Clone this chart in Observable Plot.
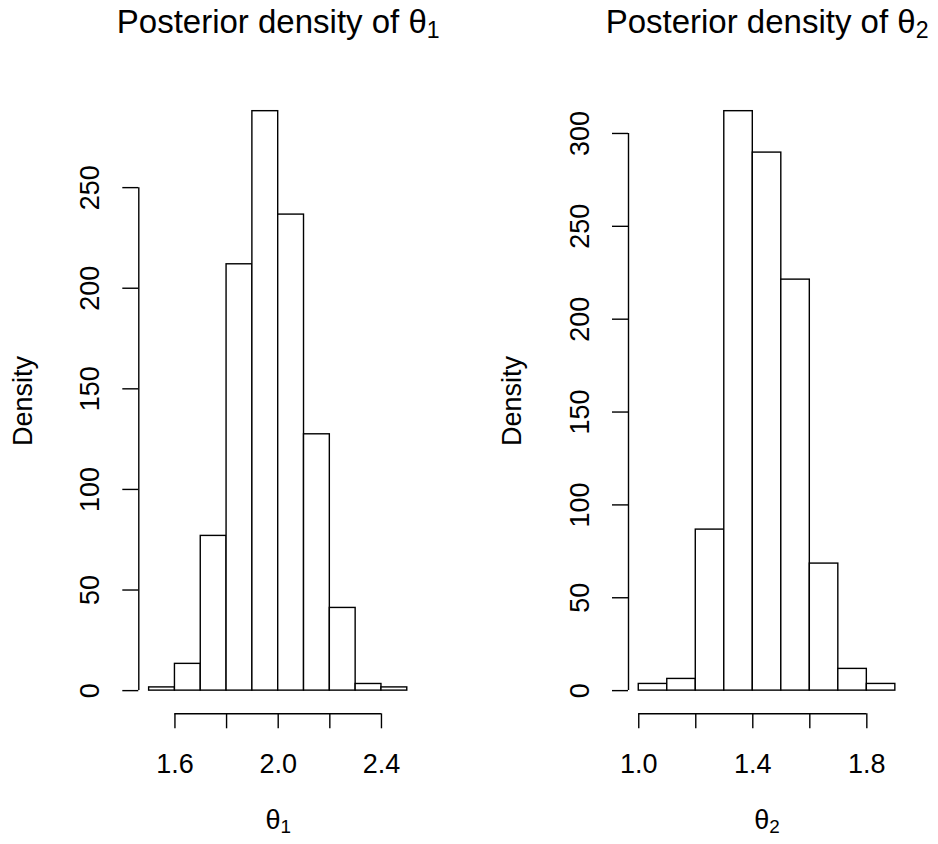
<!DOCTYPE html>
<html><head><meta charset="utf-8">
<script src="https://cdn.jsdelivr.net/npm/d3@7"></script>
<script src="https://cdn.jsdelivr.net/npm/@observablehq/plot@0.6"></script>
<style>
html,body{margin:0;padding:0;background:#fff;}
#wrap{display:flex;width:938px;height:844px;}
#wrap svg{display:block;}
</style></head><body><div id="wrap"></div>
<script>
// ---- data ----
const theta1Breaks = [1.5, 1.6, 1.7, 1.8, 1.9, 2.0, 2.1, 2.2, 2.3, 2.4, 2.5];
const theta1Density = [1.6, 13.3, 76.9, 211.9, 288, 236.6, 127.4, 41.1, 3.3, 1.6];
const theta1Ticks = [1.6, 1.8, 2.0, 2.2, 2.4];
const theta1TickLabels = ["1.6", "", "2.0", "", "2.4"];
const theta1YTicks = [0, 50, 100, 150, 200, 250];

const theta2Breaks = [1.0, 1.1, 1.2, 1.3, 1.4, 1.5, 1.6, 1.7, 1.8, 1.9];
const theta2Density = [3.6, 6.3, 86.7, 312, 289.7, 221.3, 68.4, 11.7, 3.6];
const theta2Ticks = [1.0, 1.2, 1.4, 1.6, 1.8];
const theta2TickLabels = ["1.0", "", "1.4", "", "1.8"];
const theta2YTicks = [0, 50, 100, 150, 200, 250, 300];

const titles = ["Posterior density of θ_1", "Posterior density of θ_2"];
const xLabels = ["θ_1", "θ_2"];
const yLabel = "Density";

const FONT = "'Liberation Sans', Arial, Helvetica, sans-serif";
const LW = 1.4;

function panel({breaks, density, ticks, tickLabels, yTicks, title, xLabel, marginLeft, marginRight}) {
  const bins = density.map((d, i) => ({x1: breaks[i], x2: breaks[i + 1], y1: 0, y2: d}));
  const lo = breaks[0], hi = breaks[breaks.length - 1], ext = 0.04 * (hi - lo);
  const ymax = d3.max(density);
  const fmt = new Map(ticks.map((t, i) => [t, tickLabels[i]]));
  const marginTop = 87.5, marginBottom = 130.7;
  const svg = Plot.plot({
    width: 469, height: 844, marginTop, marginBottom, marginLeft, marginRight,
    style: {fontFamily: FONT, fontSize: "27px", background: "#fff", color: "#000"},
    x: {domain: [lo - ext, hi + ext]},
    y: {domain: [-0.04 * ymax, 1.04 * ymax]},
    marks: [
      Plot.rect(bins, {x1: "x1", x2: "x2", y1: "y1", y2: "y2", fill: "white", stroke: "black", strokeWidth: LW}),
      Plot.axisX(ticks, {tickSize: 15, tickPadding: 25, tickFormat: d => fmt.get(d), label: null, strokeWidth: LW, fontSize: 27}),
      Plot.ruleY([-0.04 * ymax], {x1: ticks[0], x2: ticks[ticks.length - 1], strokeWidth: LW}),
      Plot.axisY(yTicks, {tickSize: 16, tickPadding: 24, tickRotate: -90, label: null, strokeWidth: LW, fontSize: 27}),
      Plot.ruleX([lo - ext], {y1: yTicks[0], y2: yTicks[yTicks.length - 1], strokeWidth: LW}),
      Plot.text([title], {frameAnchor: "top", dy: 32 - marginTop, lineAnchor: "bottom", textAnchor: "middle", fontSize: 33}),
      Plot.text([xLabel], {frameAnchor: "bottom", dy: 828 - (844 - marginBottom), lineAnchor: "bottom", textAnchor: "middle", fontSize: 27}),
      Plot.text([yLabel], {frameAnchor: "left", dx: -107.3, rotate: -90, lineAnchor: "bottom", textAnchor: "middle", fontSize: 27})
    ]
  });
  // render "_n" as a subscript, like R plotmath
  d3.select(svg).selectAll("text").each(function () {
    const t = this.textContent;
    if (t.includes("_")) {
      const [base, sub] = t.split("_");
      this.textContent = base;
      d3.select(this).append("tspan").attr("font-size", "70%").attr("dy", "0.22em").text(sub);
    }
  });
  return svg;
}

const wrap = document.getElementById("wrap");
wrap.append(panel({
  breaks: theta1Breaks, density: theta1Density, ticks: theta1Ticks, tickLabels: theta1TickLabels,
  yTicks: theta1YTicks, title: titles[0], xLabel: xLabels[0], marginLeft: 138.3, marginRight: 51.9
}));
wrap.append(panel({
  breaks: theta2Breaks, density: theta2Density, ticks: theta2Ticks, tickLabels: theta2TickLabels,
  yTicks: theta2YTicks, title: titles[1], xLabel: xLabels[1], marginLeft: 159, marginRight: 32.9
}));
</script>
</body></html>
